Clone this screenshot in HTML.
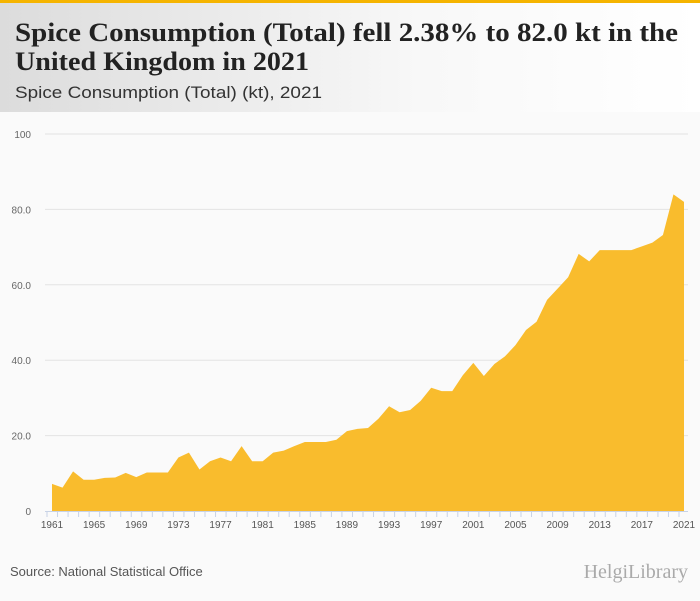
<!DOCTYPE html>
<html><head><meta charset="utf-8"><style>
body{margin:0;width:700px;height:596px;overflow:hidden;background:#fafafa;font-family:"Liberation Sans",sans-serif}
</style></head><body>
<svg width="700" height="596" xmlns="http://www.w3.org/2000/svg">
<defs><linearGradient id="hg" x1="0" x2="1"><stop offset="0" stop-color="#dcdcdc"/><stop offset="0.6" stop-color="#f8f8f8"/><stop offset="1" stop-color="#ffffff"/></linearGradient></defs>
<rect x="0" y="0" width="700" height="112" fill="url(#hg)"/>
<rect x="0" y="0" width="700" height="3" fill="#f5b400"/>
<text x="15" y="41" font-family="Liberation Serif,serif" font-weight="bold" font-size="26" fill="#222" textLength="663" lengthAdjust="spacingAndGlyphs">Spice Consumption (Total) fell 2.38% to 82.0 kt in the</text>
<text x="15" y="70" font-family="Liberation Serif,serif" font-weight="bold" font-size="26" fill="#222" textLength="294" lengthAdjust="spacingAndGlyphs">United Kingdom in 2021</text>
<text x="15" y="98" font-size="17" fill="#333" textLength="307" lengthAdjust="spacingAndGlyphs">Spice Consumption (Total) (kt), 2021</text>
<g id="grid"></g><g id="area"></g><g id="xaxis"></g>
<text x="10" y="576" font-size="13" fill="#555">Source: National Statistical Office</text>
<text x="688" y="578" text-anchor="end" font-family="Liberation Serif,serif" font-size="20" fill="#aaa">HelgiLibrary</text>
</svg>
<script>
const years=[];for(let y=1961;y<=2021;y++)years.push(y);
const values=[7.2,6.2,10.5,8.3,8.3,8.8,8.9,10.1,9.0,10.2,10.2,10.2,14.2,15.5,11.0,13.2,14.2,13.2,17.2,13.2,13.2,15.5,16.0,17.2,18.3,18.3,18.3,18.9,21.2,21.8,22.0,24.5,27.8,26.2,26.8,29.2,32.7,31.8,31.8,36.0,39.3,35.8,39.0,41.0,44.0,48.0,50.2,56.0,59.0,62.0,68.2,66.2,69.2,69.2,69.2,69.2,70.2,71.2,73.2,84.0,82.0];
const yTicks=[0,20,40,60,80,100];
const yTickLabels=["0","20.0","40.0","60.0","80.0","100"];
const ns="http://www.w3.org/2000/svg";
const X=y=>52+(y-1961)*(684-52)/60;
const Y=v=>511-v*(511-134)/100;
function mk(t,a,p){const e=document.createElementNS(ns,t);for(const k in a)e.setAttribute(k,a[k]);p.appendChild(e);return e;}
const g=document.getElementById('grid');
yTicks.forEach((t,i)=>{
 if(t>0){const l=mk('line',{x1:45,x2:688,y1:Y(t),y2:Y(t),stroke:'#e3e3e3','stroke-width':1},g);
 
 }
 const tx=mk('text',{x:31,y:Y(t)+4,'text-anchor':'end','font-size':10,fill:'#666'},g);tx.textContent=yTickLabels[i];
 
 
});
let d='M'+X(years[0])+','+Y(0);
years.forEach((y,i)=>{d+='L'+X(y)+','+Y(values[i]);});
d+='L'+X(years[years.length-1])+','+Y(0)+'Z';
const p=mk('path',{d:d,fill:'#f9bc2d'},document.getElementById('area'));


const xa=document.getElementById('xaxis');
const al=mk('line',{x1:45,x2:688,y1:511.5,y2:511.5,stroke:'#c8d3e6'},xa);


years.forEach(y=>{
 const t=mk('line',{x1:X(y)-5,x2:X(y)-5,y1:511,y2:517,stroke:'#c8d3e6'},xa);
 
 
 if((y-1961)%4===0){const tx=mk('text',{x:X(y),y:528,'text-anchor':'middle','font-size':10,fill:'#555'},xa);tx.textContent=y;
 
 }
});
</script>
</body></html>
